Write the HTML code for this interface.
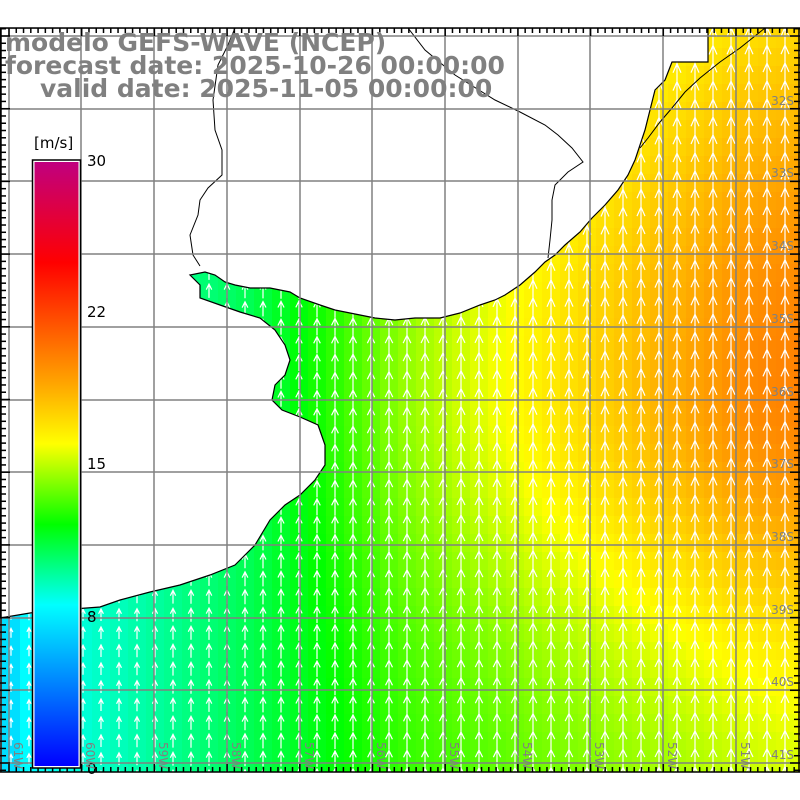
<!DOCTYPE html>
<html><head><meta charset="utf-8"><style>
html,body{margin:0;padding:0;background:#fff;width:800px;height:800px;overflow:hidden}
svg{display:block}
</style></head><body>
<svg id="s" width="800" height="800" xmlns="http://www.w3.org/2000/svg">
<defs>
<clipPath id="mc"><rect x="0" y="28" width="800" height="744"/></clipPath>
<linearGradient id="cb" x1="0" y1="1" x2="0" y2="0">
<stop offset="0" stop-color="#0000ff"/><stop offset="0.2667" stop-color="#00ffff"/>
<stop offset="0.4" stop-color="#00ff00"/><stop offset="0.5333" stop-color="#ffff00"/>
<stop offset="0.6333" stop-color="#ffa500"/><stop offset="0.8333" stop-color="#ff0000"/>
<stop offset="1" stop-color="#c0007f"/></linearGradient>
</defs>
<g id="field" clip-path="url(#mc)"></g>
<g clip-path="url(#mc)">
<path id="land" fill="#fff" stroke="#000" stroke-width="1.2" d="M0,28 L708,28 L708,62 L672,62 L665,80 L655,90 L650,110 L645,130 L640,145 L635,160 L628,175 L618,190 L605,205 L592,218 L580,232 L565,245 L555,255 L545,262 L535,272 L520,285 L505,295 L495,300 L480,305 L460,313 L440,318 L415,318 L395,320 L375,318 L355,314 L335,310 L320,305 L300,298 L290,292 L270,288 L250,288 L235,285 L225,282 L215,275 L205,272 L190,275 L200,285 L200,298 L220,305 L240,312 L260,318 L275,330 L285,345 L290,360 L285,375 L275,385 L272,400 L282,410 L300,417 L318,425 L325,445 L325,465 L315,480 L300,495 L285,505 L270,520 L255,545 L235,565 L210,575 L180,585 L150,592 L120,600 L100,607 L60,610 L30,613 L0,618 Z"/>
<polyline fill="none" stroke="#000" stroke-width="1" points="765,28 740,48 720,62 700,78 685,92 672,108 660,122 648,138 640,148"/>
<polyline fill="none" stroke="#000" stroke-width="1" points="235,28 228,45 218,65 213,100 215,130 222,150 222,175 208,188 200,200 198,215 190,235 193,255 200,266"/>
<polyline fill="none" stroke="#000" stroke-width="1" points="408,28 425,50 455,75 495,100 520,112 545,125 558,135 572,148 583,162 568,172 555,185 552,200 552,220 550,240 548,258"/>
</g>
<g id="grid" stroke="#808080" stroke-width="1.5" fill="none"></g>
<g id="ticks" stroke="#000" stroke-width="1.5"></g>
<rect x="32.5" y="160" width="48" height="608" fill="#fff" stroke="#000" stroke-width="1.5"/>
<rect x="34.5" y="162" width="44" height="604" fill="url(#cb)"/>
<g font-family="DejaVu Sans, sans-serif" font-size="15" fill="#000">
<text x="34" y="148">[m/s]</text>
<text x="87" y="166">30</text><text x="87" y="317">22</text><text x="87" y="469">15</text><text x="87" y="622">8</text><text x="87" y="774">0</text>
</g>
<g font-family="DejaVu Sans, sans-serif" font-weight="bold" font-size="25" fill="#808080">
<text x="5" y="51">modelo GEFS-WAVE (NCEP)</text>
<text x="5" y="74">forecast date: 2025-10-26 00:00:00</text>
<text x="40" y="97">valid date: 2025-11-05 00:00:00</text>
</g>
<g id="labels" font-family="DejaVu Sans, sans-serif" font-size="12" fill="#808080"></g>
</svg>
<script>
var NS="http://www.w3.org/2000/svg";
function el(t,a,p){var e=document.createElementNS(NS,t);for(var k in a)e.setAttribute(k,a[k]);if(p)p.appendChild(e);return e;}
var stops=[[0,[0,0,255]],[8,[0,255,255]],[12,[0,255,0]],[16,[255,255,0]],[19,[255,165,0]],[25,[255,0,0]],[30,[192,0,127]]];
function cm(v){if(v<=0)return stops[0][1];for(var i=1;i<stops.length;i++){if(v<=stops[i][0]){var a=stops[i-1],b=stops[i],t=(v-a[0])/(b[0]-a[0]);return [0,1,2].map(function(j){return Math.round(a[1][j]+t*(b[1][j]-a[1][j]))});}}return stops[6][1];}
function spd(x,y){var f=x/800;var base=f<0.5?7.6+10*f:12.6+4.4*(f-0.5);if(x<30)base-=1.2*(30-x)/30;
var g=Math.max(0,Math.min(1,(x-250)/500));var w=y<380?400:260;var bump=5.5*g*Math.exp(-Math.pow((y-380)/w,2));return base+bump;}
var F=document.getElementById('field');
for(var y=12;y<772;y+=18){for(var x=2;x<800;x+=18){var v=spd(x+9,y+9);var c=cm(v);
el('rect',{x:x,y:y,width:18,height:18,fill:'rgb('+c.join(',')+')'},F);}}
var d="";
for(var y=12;y<772;y+=18){for(var x=2;x<800;x+=18){var v=spd(x+9,y+9);var L=v*1.35;var cx=x+9,cy=y+9;
var y0=cy+L/2,y1=cy-L/2,h=Math.min(9,L*0.4),w=Math.min(4,L*0.2);
d+="M"+cx+","+y0.toFixed(1)+"L"+cx+","+y1.toFixed(1)+"M"+(cx-w)+","+(y1+h).toFixed(1)+"L"+cx+","+y1.toFixed(1)+"L"+(cx+w)+","+(y1+h).toFixed(1);}}
el('path',{d:d,stroke:'#fff','stroke-width':1.2,fill:'none'},F);
var G=document.getElementById('grid');
var xs=[9,81,154,227,300,372,445,518,590,663,736];
var ys=[36,109,181,254,327,400,472,545,618,690,763];
xs.forEach(function(x){el('line',{x1:x,y1:28,x2:x,y2:772},G);});
ys.forEach(function(y){el('line',{x1:0,y1:y,x2:800,y2:y},G);});
var T=document.getElementById('ticks');
el('line',{x1:0,y1:28,x2:800,y2:28},T);el('line',{x1:0,y1:772,x2:800,y2:772},T);
el('line',{x1:1,y1:28,x2:1,y2:772},T);el('line',{x1:799,y1:28,x2:799,y2:772},T);
for(var i=0;i<110;i++){var x=9+i*7.27;var big=(i%10==0);el('line',{x1:x,y1:28,x2:x,y2:28+(big?8:5)},T);el('line',{x1:x,y1:772,x2:x,y2:772-(big?8:5)},T);}
for(var i=-1;i<104;i++){var y=36+i*7.27;if(y<28||y>772)continue;var big=((i%10)+10)%10==0;el('line',{x1:0,y1:y,x2:big?10:6,y2:y},T);el('line',{x1:800,y1:y,x2:800-(big?10:6),y2:y},T);}
var Lb=document.getElementById('labels');
var lat=['32S','33S','34S','35S','36S','37S','38S','39S','40S','41S'];
for(var i=0;i<10;i++){var t=el('text',{x:794,y:ys[i+1]-4,'text-anchor':'end'},Lb);t.textContent=lat[i];}
var lon=['61W','60W','59W','58W','57W','56W','55W','54W','53W','52W','51W'];
for(var i=0;i<11;i++){var x=xs[i]+5;var t=el('text',{x:0,y:0,transform:'translate('+x+',742) rotate(90)'},Lb);t.textContent=lon[i];}
</script>
</body></html>
